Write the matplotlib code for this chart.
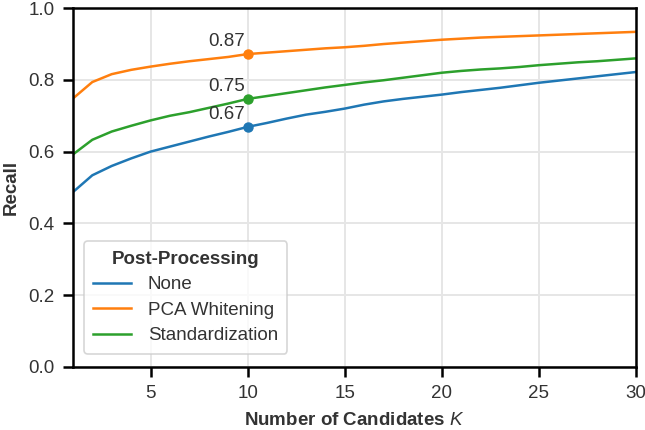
import matplotlib
matplotlib.use('Agg')
import matplotlib.pyplot as plt

# data
k_values = list(range(1, 31))
recall_none = [0.487, 0.534, 0.560, 0.581, 0.600, 0.614, 0.628, 0.642, 0.655, 0.669,
               0.680, 0.692, 0.703, 0.711, 0.720, 0.731, 0.740, 0.747, 0.753, 0.759,
               0.766, 0.772, 0.778, 0.785, 0.792, 0.798, 0.804, 0.810, 0.816, 0.822]
recall_pca = [0.748, 0.794, 0.816, 0.828, 0.837, 0.845, 0.852, 0.858, 0.864, 0.872,
              0.876, 0.880, 0.884, 0.888, 0.891, 0.895, 0.900, 0.904, 0.908, 0.912,
              0.915, 0.918, 0.920, 0.922, 0.924, 0.926, 0.928, 0.930, 0.932, 0.934]
recall_std = [0.592, 0.633, 0.656, 0.672, 0.687, 0.700, 0.710, 0.722, 0.734, 0.747,
              0.755, 0.763, 0.771, 0.779, 0.786, 0.793, 0.799, 0.806, 0.813, 0.820,
              0.825, 0.829, 0.832, 0.836, 0.841, 0.845, 0.849, 0.852, 0.856, 0.860]
series_names = ['None', 'PCA Whitening', 'Standardization']
highlight_k = 10

plt.rcParams['font.family'] = ['Liberation Sans', 'DejaVu Sans']
plt.rcParams['mathtext.fontset'] = 'custom'
plt.rcParams['mathtext.it'] = 'Liberation Sans:italic'
plt.rcParams['mathtext.rm'] = 'Liberation Sans'

colors = ['#1f77b4', '#ff7f0e', '#2ca02c']
TEXT = '#333333'
FS = 13.5

fig = plt.figure(figsize=(6.45, 4.3), dpi=100)
ax = fig.add_axes([0.113, 0.147, 0.873, 0.834])

for vals, name, c in zip([recall_none, recall_pca, recall_std], series_names, colors):
    ax.plot(k_values, vals, color=c, lw=1.8, label=name)
    i = k_values.index(highlight_k)
    ax.plot(k_values[i], vals[i], 'o', color=c, ms=6.5)
    ax.annotate('%.2f' % vals[i], (k_values[i], vals[i]), xytext=(-2, 3),
                textcoords='offset points', ha='right', va='bottom',
                fontsize=FS, color=TEXT)

ax.set_xlim(1, 30)
ax.set_ylim(0, 1.0)
ax.set_xticks([5, 10, 15, 20, 25, 30])
ax.set_yticks([0.0, 0.2, 0.4, 0.6, 0.8, 1.0])
ax.grid(True, color='#e6e6e6', lw=1.4)
ax.set_axisbelow(True)
for s in ax.spines.values():
    s.set_linewidth(1.8)
    s.set_color('black')
ax.tick_params(direction='out', length=7, width=1.8, labelsize=FS,
               labelcolor=TEXT, pad=6)

ax.set_xlabel('Number of Candidates $K$', fontsize=FS, fontweight='bold',
              color=TEXT, labelpad=7)
ax.set_ylabel('Recall', fontsize=FS, fontweight='bold', color=TEXT, labelpad=6)

leg = ax.legend(title='Post-Processing', loc='lower left',
                bbox_to_anchor=(0.003, 0.01), fontsize=FS, frameon=True,
                handlelength=2.0, handletextpad=0.9, borderpad=0.5,
                labelspacing=0.45)
leg.get_title().set_fontweight('bold')
leg.get_title().set_fontsize(FS)
leg.get_title().set_color(TEXT)
for t in leg.get_texts():
    t.set_color(TEXT)
leg.get_frame().set_edgecolor('#cccccc')
leg.get_frame().set_linewidth(1.2)

plt.savefig('out.png', dpi=100)
